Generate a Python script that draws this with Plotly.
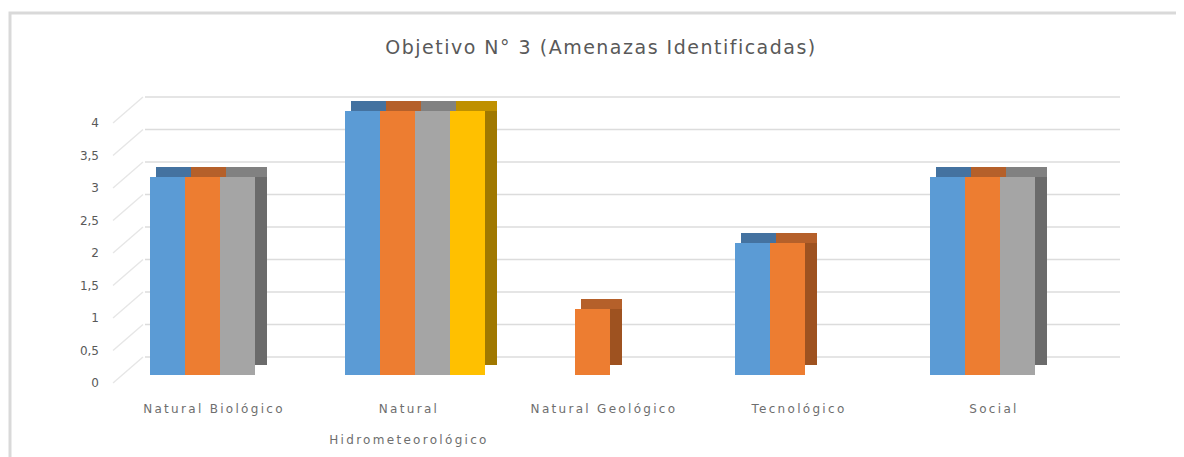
import plotly.graph_objects as go

# ---------------- data ----------------
categories = ["Natural Biológico", "Natural Hidrometeorológico",
              "Natural Geológico", "Tecnológico", "Social"]
x_tick_labels = ["Natural Biológico", "Natural<br><br>Hidrometeorológico",
                 "Natural Geológico", "Tecnológico", "Social"]
series_names = ["Serie 1", "Serie 2", "Serie 3", "Serie 4"]
serie_1 = [3, 4, None, 2, 3]
serie_2 = [3, 4, 1, 2, 3]
serie_3 = [3, 4, None, None, 3]
serie_4 = [None, 4, None, None, None]
y_ticks = [0, 0.5, 1, 1.5, 2, 2.5, 3, 3.5, 4]
y_tick_labels = ["0", "0,5", "1", "1,5", "2", "2,5", "3", "3,5", "4"]
title_text = "Objetivo N° 3 (Amenazas Identificadas)"

# ---------------- style (page pixel geometry) ----------------
PAGE_W, PAGE_H = 1184, 457
OFF = 8                                  # browser body margin
W, H = PAGE_W - OFF, PAGE_H - OFF
PLOT_L, PLOT_R, PLOT_T, PLOT_B = 100, 1130, 60, 400
CAT_PX, CAT0_PX = 195.0, 220.0
BAR_PX = 35.0
DX_PX, DY_PX = 12.0, 10.0
FRONT_ZERO, FRONT_SCALE = 375.0, 66.0
LABEL_ZERO, LABEL_SCALE = 383.0, 65.0
BACK_ZERO = 357.0
front_colors = ["#5B9BD5", "#ED7D31", "#A5A5A5", "#FFC000"]
top_colors = ["#4472A0", "#B5602A", "#818181", "#BF9000"]
side_colors = ["#3E6790", "#9E5220", "#6B6B6B", "#A07800"]
TEXT = "#595959"
XTEXT = "#6E6E6E"
GRID = "#DCDCDC"


def u(px):
    return (px - CAT0_PX) / CAT_PX


def spaced(t, s):
    return "<br>".join(
        f"<span style='letter-spacing:{s}px'>{part}</span>" if part else "" for part in t.split("<br>"))


x_pos = list(range(len(categories)))
w = BAR_PX / CAT_PX
dx = DX_PX / CAT_PX
dy = DY_PX / FRONT_SCALE
back_shift = (LABEL_ZERO - BACK_ZERO) / LABEL_SCALE

all_series = [serie_1, serie_2, serie_3, serie_4]
n = len(all_series)

fig = go.Figure()

gx, gy, sx, sy = [], [], [], []
for v in y_ticks:
    gx += [u(145), u(1120), None]
    gy += [v + back_shift, v + back_shift, None]
    sx += [u(113), u(143), None]
    sy += [v, v + back_shift, None]
fig.add_trace(go.Scatter(x=gx, y=gy, mode="lines", line=dict(color=GRID, width=1.6),
                         hoverinfo="skip", showlegend=False, yaxis="y"))
fig.add_trace(go.Scatter(x=sx, y=sy, mode="lines", line=dict(color="#E6E6E6", width=1.4),
                         hoverinfo="skip", showlegend=False, yaxis="y", cliponaxis=False))

for j, s in enumerate(all_series):
    fig.add_trace(go.Bar(x=x_pos, y=s, base=dy, offset=(j - n / 2) * w + dx, width=w,
                         marker=dict(color=side_colors[j], line=dict(width=0)),
                         yaxis="y2", showlegend=False, hoverinfo="skip"))
for j, s in enumerate(all_series):
    fig.add_trace(go.Bar(x=x_pos, y=[None if v is None else dy for v in s], base=s,
                         offset=(j - n / 2) * w + dx * 0.5, width=w + dx * 0.5,
                         marker=dict(color=top_colors[j], line=dict(width=0)),
                         yaxis="y2", showlegend=False, hoverinfo="skip"))
for j, s in enumerate(all_series):
    fig.add_trace(go.Bar(x=x_pos, y=s, name=series_names[j], offset=(j - n / 2) * w, width=w,
                         marker=dict(color=front_colors[j], line=dict(width=0)),
                         yaxis="y2", showlegend=False))

plot_w = PLOT_R - PLOT_L
plot_h = PLOT_B - PLOT_T
fig.update_layout(
    width=W, height=H,
    margin=dict(l=PLOT_L - OFF, r=W - (PLOT_R - OFF), t=PLOT_T - OFF, b=H - (PLOT_B - OFF),
                autoexpand=False),
    paper_bgcolor="white", plot_bgcolor="white",
    barmode="overlay",
    font=dict(family="DejaVu Sans", color=TEXT),
    title=dict(text=spaced(title_text, 1.5), x=(601 - OFF) / W, xanchor="center",
               y=1 - (47 - OFF) / H, yanchor="middle", yref="container",
               font=dict(size=19, color=TEXT, family="DejaVu Sans")),
    xaxis=dict(range=[u(PLOT_L), u(PLOT_R)], tickvals=x_pos,
               ticktext=[spaced(t, 2.3) for t in x_tick_labels],
               showgrid=False, zeroline=False, showline=False, ticks="",
               tickfont=dict(size=12, color=XTEXT), tickangle=0, ticklabelshift=-6),
    yaxis=dict(range=[(LABEL_ZERO - PLOT_B) / LABEL_SCALE, (LABEL_ZERO - PLOT_T) / LABEL_SCALE],
               tickvals=y_ticks, ticktext=y_tick_labels, showgrid=False, zeroline=False,
               showline=False, ticks="", tickfont=dict(size=12, color=TEXT)),
    yaxis2=dict(range=[(FRONT_ZERO - PLOT_B) / FRONT_SCALE, (FRONT_ZERO - PLOT_T) / FRONT_SCALE],
                overlaying="y", visible=False),
    shapes=[dict(type="rect", xref="paper", yref="paper",
                 x0=(10 - PLOT_L) / plot_w, x1=(PAGE_W + 20 - PLOT_L) / plot_w,
                 y0=(PLOT_B - (PAGE_H + 20)) / plot_h, y1=(PLOT_B - 13) / plot_h,
                 line=dict(color="#D9D9D9", width=3), fillcolor="rgba(0,0,0,0)", layer="below")],
)

fig.write_html("out.html")
